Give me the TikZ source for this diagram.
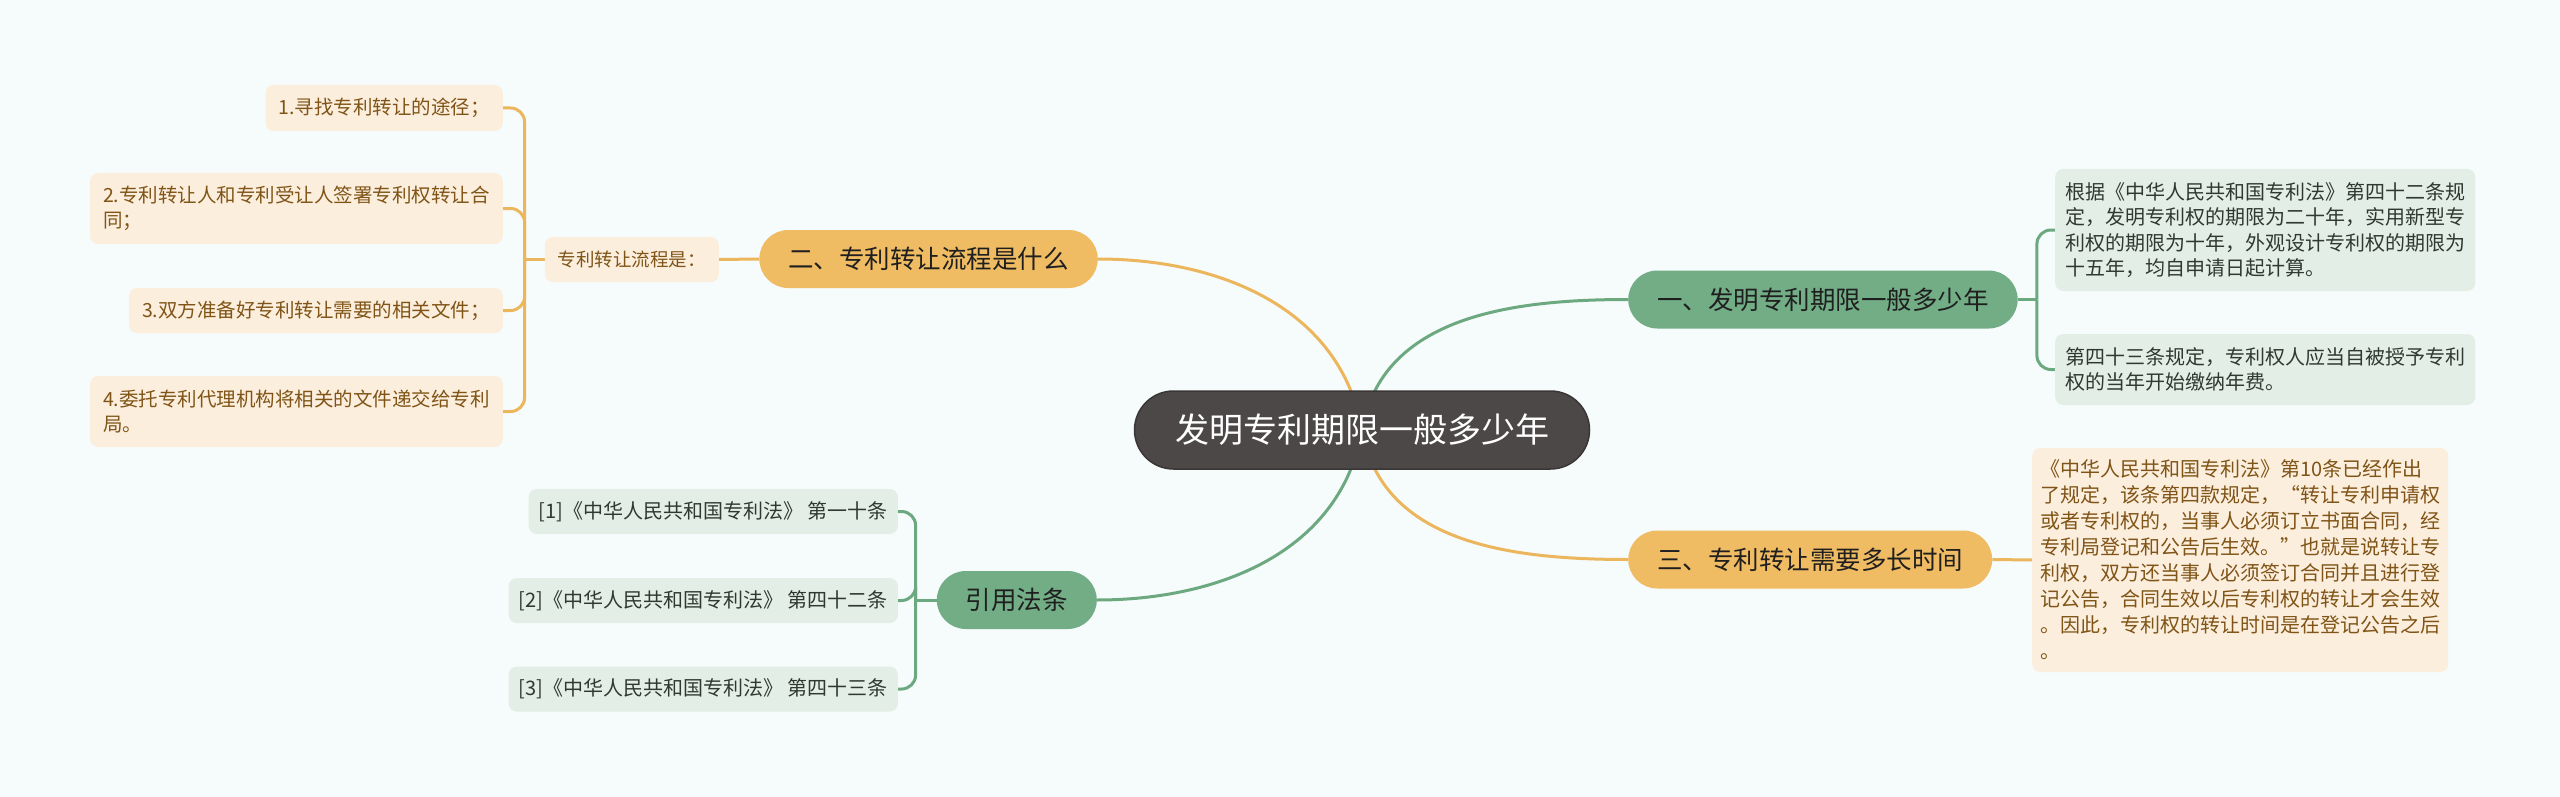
\documentclass[tikz,border=0pt]{standalone}
\usepackage{fontspec}
\setmainfont{Noto Sans CJK SC}
\usetikzlibrary{backgrounds}
\definecolor{bgc}{HTML}{F6FBFC}
\definecolor{rootfill}{HTML}{4D4848}
\definecolor{rootline}{HTML}{3A3636}
\definecolor{darkgreen}{HTML}{72AD86}
\definecolor{darkorange}{HTML}{F0BC63}
\definecolor{greenline}{HTML}{6DA980}
\definecolor{orangeline}{HTML}{ECB65C}
\definecolor{paleg}{HTML}{E3EEE6}
\definecolor{paleo}{HTML}{FCEEDD}
\definecolor{browntext}{HTML}{7F5416}
\definecolor{greytext}{HTML}{303833}

\begin{document}
\begin{tikzpicture}[x=1pt,y=-1pt,
	root/.style={fill=rootfill,draw=rootline,line width=1.5,rounded corners=39,
		minimum width=455,minimum height=78,text=white,font=\fontsize{34}{40}\selectfont},
	branch/.style={rounded corners=29,minimum height=58,inner xsep=29,inner ysep=0,
		text=black!88,font=\fontsize{25.5}{30}\selectfont},
	gleaf/.style={fill=paleg,rounded corners=8,align=left,inner xsep=10,inner ysep=4,
		text=greytext,font=\fontsize{20}{25.5}\selectfont},
	oleaf/.style={fill=paleo,rounded corners=8,align=left,inner xsep=13,inner ysep=4,
		text=browntext,font=\fontsize{19.5}{25}\selectfont},
	gcon/.style={draw=greenline,line width=3},
	ocon/.style={draw=orangeline,line width=3}]
\useasboundingbox (0,0) rectangle (2560,797);

\node[root] (root) at (1362,430) {发明专利期限一般多少年};
\node[branch,fill=darkgreen,anchor=west] (b1) at (1628,299.5) {一、发明专利期限一般多少年};
\node[branch,fill=darkorange,anchor=east] (b2) at (1098,259) {二、专利转让流程是什么};
\node[branch,fill=darkorange,anchor=west] (b3) at (1628,559.5) {三、专利转让需要多长时间};
\node[branch,fill=darkgreen,anchor=east] (b4) at (1097,600) {引用法条};

\node[gleaf,anchor=west,minimum height=122] (t1) at (2055,230)
	{根据《中华人民共和国专利法》第四十二条规\\定，发明专利权的期限为二十年，实用新型专\\利权的期限为十年，外观设计专利权的期限为\\十五年，均自申请日起计算。};
\node[gleaf,anchor=west,minimum height=71] (t2) at (2055,369.5)
	{第四十三条规定，专利权人应当自被授予专利\\权的当年开始缴纳年费。};
\node[oleaf,anchor=west,minimum height=224,inner xsep=8,font=\fontsize{20}{26}\selectfont] (t3) at (2032,560)
	{《中华人民共和国专利法》第10条已经作出\\了规定，该条第四款规定，“转让专利申请权\\或者专利权的，当事人必须订立书面合同，经\\专利局登记和公告后生效。”也就是说转让专\\利权，双方还当事人必须签订合同并且进行登\\记公告，合同生效以后专利权的转让才会生效\\。因此，专利权的转让时间是在登记公告之后\\。};

\node[oleaf,anchor=east,minimum height=45,font=\fontsize{18.5}{25}\selectfont] (flow) at (719,259.5) {专利转让流程是：};
\node[oleaf,anchor=east,minimum height=46] (s1) at (503,108) {1.寻找专利转让的途径；};
\node[oleaf,anchor=east,minimum height=71] (s2) at (503,208.5)
	{2.专利转让人和专利受让人签署专利权转让合\\同；};
\node[oleaf,anchor=east,minimum height=45] (s3) at (503,310.5) {3.双方准备好专利转让需要的相关文件；};
\node[oleaf,anchor=east,minimum height=71] (s4) at (503,411.5)
	{4.委托专利代理机构将相关的文件递交给专利\\局。};

\node[gleaf,anchor=east,minimum height=45] (r1) at (898,511.5) {{[1]}《中华人民共和国专利法》 第一十条};
\node[gleaf,anchor=east,minimum height=45] (r2) at (898,600.5) {{[2]}《中华人民共和国专利法》 第四十二条};
\node[gleaf,anchor=east,minimum height=45] (r3) at (898,689) {{[3]}《中华人民共和国专利法》 第四十三条};

\begin{pgfonlayer}{background}
\fill[bgc] (0,0) rectangle (2560,797);
\draw[gcon] (root.center) .. controls +(20,-114) and +(-116,0) .. (b1.west);
\draw[ocon] (root.center) .. controls +(20,114) and +(-116,0) .. (b3.west);
\draw[ocon] (root.center) .. controls +(-21,-121) and +(123,0) .. (b2.east);
\draw[gcon] (root.center) .. controls +(-21,121) and +(123,0) .. (b4.east);

\path (b1.east) ++(19,0) coordinate (j1);
\path (flow.west) ++(-20,0) coordinate (j2);
\path (b4.west) ++(-21,0) coordinate (j4);

\draw[gcon] (b1.east) -- (j1);
\foreach \n in {t1,t2}
	\draw[gcon,rounded corners=14] (j1) |- (\n.west);
\draw[ocon] (b3.east) -- (t3.west);
\draw[ocon] (b2.west) -- (flow.east);
\draw[ocon] (flow.west) -- (j2);
\foreach \n in {s1,s2,s3,s4}
	\draw[ocon,rounded corners=14] (j2) |- (\n.east);
\draw[gcon] (b4.west) -- (j4);
\foreach \n in {r1,r2,r3}
	\draw[gcon,rounded corners=14] (j4) |- (\n.east);
\end{pgfonlayer}
\end{tikzpicture}
\end{document}
